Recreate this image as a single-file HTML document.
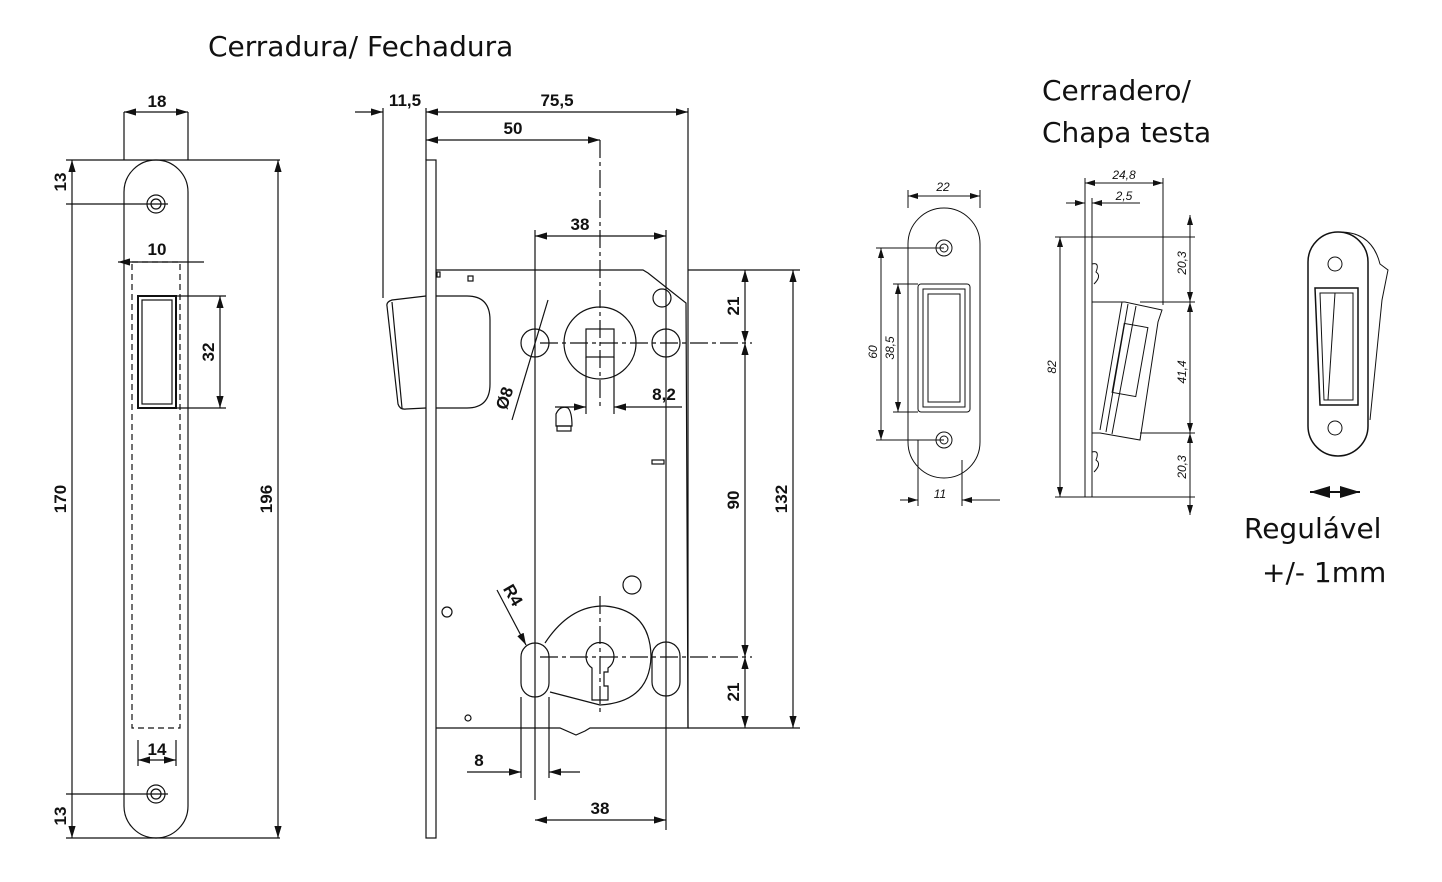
<!DOCTYPE html>
<html><head><meta charset="utf-8"><style>
body{margin:0;background:#fff}
svg{display:block}
text{font-family:"Liberation Sans",sans-serif;fill:#111}
.d{font-size:17px;font-weight:bold}
.s{font-size:12px;font-style:italic}
.t{font-size:28px;font-family:"DejaVu Sans","Liberation Sans",sans-serif}
</style></head><body>
<svg width="1442" height="882" viewBox="0 0 1442 882" xmlns="http://www.w3.org/2000/svg">
<defs><marker id="a" viewBox="0 0 10 6" refX="10" refY="3" markerWidth="10" markerHeight="6" orient="auto-start-reverse"><path d="M0,0L10,3L0,6z" fill="#111"/></marker></defs>
<g fill="none" stroke="#111" stroke-width="1.2">
<!-- Left faceplate -->
<rect x="124" y="160" width="64" height="678" rx="32"/>
<circle cx="156" cy="204" r="9"/><circle cx="156" cy="204" r="5"/>
<circle cx="156" cy="794" r="9"/><circle cx="156" cy="794" r="5"/>
<rect x="132" y="262" width="48" height="466" stroke-dasharray="6,4"/>
<rect x="138" y="296" width="38" height="112" stroke-width="2"/>
<rect x="142" y="300" width="30" height="104"/>
<line x1="124" y1="112" x2="124" y2="160"/><line x1="188" y1="112" x2="188" y2="160"/>
<line x1="124" y1="112" x2="188" y2="112" marker-start="url(#a)" marker-end="url(#a)"/>
<line x1="66" y1="160" x2="280" y2="160"/><line x1="66" y1="838" x2="280" y2="838"/>
<line x1="66" y1="204" x2="168" y2="204"/><line x1="66" y1="794" x2="168" y2="794"/>
<line x1="72" y1="160" x2="72" y2="838" marker-start="url(#a)" marker-end="url(#a)"/>
<line x1="278" y1="160" x2="278" y2="838" marker-start="url(#a)" marker-end="url(#a)"/>
<line x1="118" y1="262" x2="204" y2="262" marker-start="url(#a)"/>
<line x1="176" y1="296" x2="226" y2="296"/><line x1="176" y1="408" x2="226" y2="408"/>
<line x1="220" y1="296" x2="220" y2="408" marker-start="url(#a)" marker-end="url(#a)"/>
<line x1="138" y1="740" x2="138" y2="766"/><line x1="176" y1="740" x2="176" y2="766"/>
<line x1="138" y1="760" x2="176" y2="760" marker-start="url(#a)" marker-end="url(#a)"/>
<!-- Middle lock -->
<rect x="426" y="160" width="10" height="678"/>
<path d="M436,270 H643 L648,273 L686,303 L688,728 H590 L585,731 L576,735 L560,728 H436"/>
<path d="M436,296 H467 Q490,296 490,320 V384 Q490,408 467,408 H436"/>
<path d="M426,296 L392,300 Q386,302 387,306 L398,404 Q400,410 406,409 L426,408"/>
<line x1="392" y1="302" x2="402" y2="408"/>
<line x1="383" y1="108" x2="383" y2="298"/><line x1="426" y1="108" x2="426" y2="160"/><line x1="688" y1="108" x2="688" y2="728"/>
<line x1="355" y1="112" x2="383" y2="112" marker-end="url(#a)"/><line x1="426" y1="112" x2="688" y2="112" marker-start="url(#a)" marker-end="url(#a)"/>
<line x1="426" y1="140" x2="600" y2="140" marker-start="url(#a)" marker-end="url(#a)"/>
<line x1="600" y1="140" x2="600" y2="410" stroke-dasharray="18,4,4,4"/>
<line x1="535" y1="230" x2="535" y2="800"/><line x1="666" y1="230" x2="666" y2="830"/>
<line x1="535" y1="236" x2="666" y2="236" marker-start="url(#a)" marker-end="url(#a)"/>
<circle cx="535" cy="343" r="14"/><circle cx="600" cy="343" r="36"/><rect x="586" y="329" width="28" height="28"/><circle cx="666" cy="343" r="14"/>
<circle cx="662" cy="298" r="9"/>
<line x1="540" y1="343" x2="752" y2="343" stroke-dasharray="18,4,4,4"/>
<line x1="548" y1="300" x2="512" y2="420"/>
<line x1="586" y1="357" x2="586" y2="414"/><line x1="614" y1="357" x2="614" y2="414"/>
<line x1="555" y1="407" x2="586" y2="407" marker-end="url(#a)"/><line x1="614" y1="407" x2="682" y2="407" marker-start="url(#a)"/>
<path d="M556,426 V414 Q560,405 568,408 Q572,412 572,426 Z"/><rect x="557" y="426" width="14" height="5"/>
<rect x="652" y="460" width="12" height="4"/>
<rect x="437" y="272" width="3" height="5"/><rect x="468" y="276" width="5" height="5"/>
<circle cx="632" cy="585" r="9"/><circle cx="447" cy="612" r="5"/><circle cx="468" cy="718" r="3"/>
<path d="M545,643 Q570,605 605,606 Q650,610 651,656 Q650,702 600,705 L550,692"/>
<rect x="521" y="643" width="28" height="54" rx="14"/><rect x="652" y="642" width="28" height="54" rx="14"/>
<path d="M592,668 A14,14 0 1 1 608,668 V672 H604 V686 H608 V700 H592 Z"/>
<line x1="540" y1="657" x2="752" y2="657" stroke-dasharray="18,4,4,4"/>
<line x1="600" y1="596" x2="600" y2="712" stroke-dasharray="18,4,4,4"/>
<line x1="497" y1="590" x2="526" y2="645" marker-end="url(#a)"/>
<line x1="521" y1="697" x2="521" y2="778"/><line x1="549" y1="697" x2="549" y2="778"/>
<line x1="467" y1="772" x2="521" y2="772" marker-end="url(#a)"/><line x1="549" y1="772" x2="580" y2="772" marker-start="url(#a)"/>
<line x1="535" y1="820" x2="666" y2="820" marker-start="url(#a)" marker-end="url(#a)"/>
<line x1="688" y1="270" x2="800" y2="270"/><line x1="688" y1="728" x2="800" y2="728"/>
<line x1="745" y1="270" x2="745" y2="343" marker-start="url(#a)" marker-end="url(#a)"/>
<line x1="745" y1="343" x2="745" y2="657" marker-start="url(#a)" marker-end="url(#a)"/>
<line x1="745" y1="657" x2="745" y2="728" marker-start="url(#a)" marker-end="url(#a)"/>
<line x1="793" y1="270" x2="793" y2="728" marker-start="url(#a)" marker-end="url(#a)"/>
<!-- Strike plate front -->
<g stroke-width="1">
<rect x="908" y="208" width="72" height="270" rx="36"/>
<circle cx="944" cy="248" r="8"/><circle cx="944" cy="248" r="4"/>
<circle cx="944" cy="440" r="8"/><circle cx="944" cy="440" r="4"/>
<rect x="918" y="284" width="52" height="128" rx="3"/><rect x="923" y="289" width="42" height="118"/><rect x="928" y="294" width="32" height="108"/>
<line x1="908" y1="190" x2="908" y2="208"/><line x1="980" y1="190" x2="980" y2="208"/>
<line x1="908" y1="196" x2="980" y2="196" marker-start="url(#a)" marker-end="url(#a)"/>
<line x1="876" y1="248" x2="944" y2="248"/><line x1="876" y1="440" x2="944" y2="440"/>
<line x1="881" y1="248" x2="881" y2="440" marker-start="url(#a)" marker-end="url(#a)"/>
<line x1="893" y1="284" x2="918" y2="284"/><line x1="893" y1="412" x2="918" y2="412"/>
<line x1="898" y1="284" x2="898" y2="412" marker-start="url(#a)" marker-end="url(#a)"/>
<line x1="918" y1="440" x2="918" y2="506"/><line x1="962" y1="460" x2="962" y2="506"/>
<line x1="900" y1="500" x2="918" y2="500" marker-end="url(#a)"/><line x1="962" y1="500" x2="1000" y2="500" marker-start="url(#a)"/>
<!-- side view -->
<rect x="1085" y="237" width="7" height="260"/>
<path d="M1092,264 Q1100,262 1096,272 Q1102,276 1094,284"/><path d="M1092,452 Q1100,450 1096,460 Q1102,464 1094,472"/>
<path d="M1092,302 H1125 L1162,310 L1158,322 L1140,440 L1100,433 H1092"/>
<path d="M1122,302 L1100,430 M1128,304 L1106,432 M1136,306 L1112,434"/>
<rect x="1118" y="325" width="24" height="70" transform="rotate(10 1130 360)"/>
<line x1="1085" y1="178" x2="1085" y2="237"/><line x1="1163" y1="178" x2="1163" y2="305"/>
<line x1="1085" y1="183" x2="1163" y2="183" marker-start="url(#a)" marker-end="url(#a)"/>
<line x1="1066" y1="203" x2="1085" y2="203" marker-end="url(#a)"/><line x1="1092" y1="203" x2="1140" y2="203" marker-start="url(#a)"/>
<line x1="1092" y1="198" x2="1092" y2="237"/>
<line x1="1055" y1="237" x2="1195" y2="237"/><line x1="1055" y1="497" x2="1195" y2="497"/>
<line x1="1060" y1="237" x2="1060" y2="497" marker-start="url(#a)" marker-end="url(#a)"/>
<line x1="1140" y1="302" x2="1195" y2="302"/><line x1="1140" y1="433" x2="1195" y2="433"/>
<line x1="1190" y1="215" x2="1190" y2="302" marker-start="url(#a)" marker-end="url(#a)"/>
<line x1="1190" y1="302" x2="1190" y2="433" marker-start="url(#a)" marker-end="url(#a)"/>
<line x1="1190" y1="433" x2="1190" y2="515" marker-start="url(#a)" marker-end="url(#a)"/>
<!-- 3D view -->
<path d="M1340,232 Q1372,232 1380,264 L1388,270 L1382,300 L1370,420"/>
<rect x="1308" y="232" width="60" height="224" rx="30" stroke-width="1.5"/>
<circle cx="1335" cy="264" r="7"/><circle cx="1335" cy="428" r="7"/>
<path d="M1315,288 H1358 V405 H1320 Z" stroke-width="1.5"/><path d="M1320,293 H1353 V400 H1324 Z"/><line x1="1335" y1="293" x2="1328" y2="400"/>
</g>
<line x1="1310" y1="492" x2="1360" y2="492" stroke-width="2" marker-start="url(#a)" marker-end="url(#a)"/>
</g>
<text x="208" y="56" class="t">Cerradura/ Fechadura</text>
<text x="1042" y="100" class="t">Cerradero/</text>
<text x="1042" y="142" class="t">Chapa testa</text>
<text x="1244" y="538" class="t">Regulável</text>
<text x="1262" y="582" class="t">+/- 1mm</text>
<g class="d" text-anchor="middle">
<text x="157" y="107">18</text><text x="157" y="255">10</text><text x="157" y="755">14</text>
<text transform="translate(66,182) rotate(-90)">13</text>
<text transform="translate(66,499) rotate(-90)">170</text>
<text transform="translate(66,816) rotate(-90)">13</text>
<text transform="translate(272,499) rotate(-90)">196</text>
<text transform="translate(214,352) rotate(-90)">32</text>
<text x="405" y="106">11,5</text><text x="557" y="106">75,5</text><text x="513" y="134">50</text>
<text x="580" y="230">38</text><text x="664" y="400">8,2</text>
<text transform="translate(510,400) rotate(-72)">Ø8</text>
<text transform="translate(508,598) rotate(60)">R4</text>
<text x="479" y="766">8</text><text x="600" y="814">38</text>
<text transform="translate(739,306) rotate(-90)">21</text>
<text transform="translate(739,500) rotate(-90)">90</text>
<text transform="translate(739,692) rotate(-90)">21</text>
<text transform="translate(787,499) rotate(-90)">132</text>
</g>
<g class="s" text-anchor="middle">
<text x="943" y="191">22</text><text x="940" y="498">11</text>
<text transform="translate(877,352) rotate(-90)">60</text>
<text transform="translate(894,348) rotate(-90)">38,5</text>
<text x="1124" y="179">24,8</text><text x="1124" y="200">2,5</text>
<text transform="translate(1056,367) rotate(-90)">82</text>
<text transform="translate(1186,263) rotate(-90)">20,3</text>
<text transform="translate(1186,372) rotate(-90)">41,4</text>
<text transform="translate(1186,467) rotate(-90)">20,3</text>
</g>
</svg>
</body></html>
